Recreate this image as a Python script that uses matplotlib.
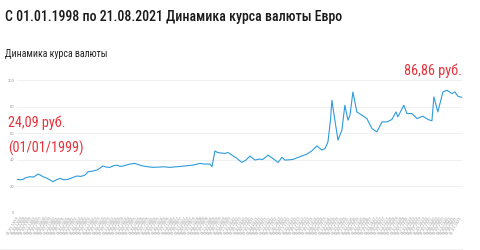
import matplotlib
matplotlib.use('Agg')
import matplotlib.pyplot as plt
from matplotlib.lines import Line2D
import numpy as np

# decimal year / rate (rub per euro)
years = [1999.00, 1999.15, 1999.31, 1999.45, 1999.66, 1999.85, 2000.07, 2000.20,
         2000.32, 2000.55, 2000.83, 2001.00, 2001.19, 2001.40, 2001.59, 2001.80,
         2002.05, 2002.25, 2002.46, 2002.61, 2002.85, 2003.07, 2003.20, 2003.37,
         2003.55, 2003.73, 2003.90, 2004.09, 2004.25, 2004.39, 2004.55, 2004.75,
         2005.00, 2005.15, 2005.41, 2005.65, 2005.92, 2006.10, 2006.27, 2006.43,
         2006.78, 2007.14, 2007.50, 2007.95, 2008.31, 2008.55, 2008.82, 2008.92,
         2009.07, 2009.20, 2009.33, 2009.58, 2009.73, 2009.94, 2010.19, 2010.44,
         2010.65, 2010.85, 2011.11, 2011.30, 2011.51, 2011.77, 2012.02, 2012.28,
         2012.48, 2012.63, 2012.85, 2013.04, 2013.39, 2013.75, 2014.00, 2014.26,
         2014.41, 2014.51, 2014.67, 2014.82, 2014.95, 2015.02, 2015.12, 2015.33,
         2015.53, 2015.68, 2015.84, 2015.94, 2016.09, 2016.29, 2016.55, 2016.80,
         2017.06, 2017.31, 2017.57, 2017.82, 2018.07, 2018.28, 2018.38, 2018.68,
         2018.84, 2019.09, 2019.35, 2019.65, 2019.91, 2020.11, 2020.21, 2020.41,
         2020.67, 2020.87, 2021.13, 2021.28, 2021.43, 2021.64]
rates = [25.2, 25.0, 25.3, 26.5, 27.3, 27.0, 29.3, 28.5,
         27.3, 26.0, 23.5, 25.0, 26.0, 25.0, 25.3, 26.5,
         27.8, 27.5, 28.5, 31.0, 31.5, 32.3, 33.5, 35.3,
         34.5, 34.3, 35.5, 36.0, 35.0, 35.3, 36.0, 36.8,
         37.3, 36.5, 35.3, 34.8, 34.3, 34.5, 34.5, 34.8,
         34.3, 34.8, 35.3, 36.0, 37.3, 36.8, 36.8, 34.8,
         46.7, 45.5, 45.2, 44.8, 45.5, 43.5, 41.0, 38.0,
         39.8, 42.8, 39.8, 40.5, 40.3, 43.5, 41.0, 38.0,
         41.8, 39.8, 40.0, 40.3, 42.3, 44.3, 46.7, 50.5,
         48.5, 47.3, 48.5, 53.5, 70.0, 84.8, 74.8, 54.8,
         62.3, 81.0, 69.8, 73.5, 91.0, 76.0, 73.5, 71.0,
         63.5, 61.0, 68.5, 68.5, 70.3, 76.0, 72.3, 81.0,
         74.8, 74.8, 71.0, 72.8, 70.3, 69.3, 87.3, 76.0,
         91.0, 92.3, 89.8, 91.0, 87.8, 86.86]

y_ticks = [0, 20, 40, 60, 80, 100]

# x tick labels every two months
tick_pos = []
tick_lab = []
for yr in range(1999, 2022):
  for m in range(1, 13, 2):
    if yr == 2021 and m > 7:
      break
    tick_pos.append(yr + (m - 1) / 12.)
    tick_lab.append('01.%02d.%d' % (m, yr))

narrow = ['Roboto Condensed', 'DejaVu Sans']
red = '#e8333c'

fig = plt.figure(figsize=(4.8, 2.5), dpi=100)
ax = fig.add_axes([17/480., 1 - 213/250., 445/480., 133/250.])

ax.plot(years, rates, color='#2e9bdc', lw=0.8)

ax.set_ylim(0, 100)
ax.set_xlim(1999.0, 2021.64)
ax.set_yticks(y_ticks)
ax.set_yticklabels([str(v) for v in y_ticks])
ax.set_xticks(tick_pos)
ax.set_xticklabels(tick_lab, rotation=60, ha='right', va='top', rotation_mode='anchor')
ax.tick_params(axis='both', length=0, labelsize=2.6, colors='#9a9a9a', pad=2)
ax.grid(axis='y', color='#eeeeee', lw=0.6)
ax.axhline(0, color='#d6e6f3', lw=0.8)
for s in ax.spines.values():
  s.set_visible(False)

fig.text(5/480., 1 - 17/250., 'С 01.01.1998 по 21.08.2021 Динамика курса валюты Евро',
         family=narrow, fontsize=10, fontweight='medium', color='#1a1a1a', va='center')
fig.text(5/480., 1 - 54/250., 'Динамика курса валюты',
         family=narrow, fontsize=7.1, color='#222222', va='center')
fig.text(462/480., 1 - 71/250., '86,86 руб.', family=narrow, fontsize=10.3,
         color=red, ha='right', va='center')
fig.text(8/480., 1 - 123/250., '24,09 руб.', family=narrow, fontsize=10.3,
         color=red, va='center')
fig.text(8/480., 1 - 148/250., '(01/01/1999)', family=narrow, fontsize=10.3,
         color=red, va='center')

fig.add_artist(Line2D([0, 462/480.], [1 - 249/250.] * 2, color='#eeeeee', lw=0.6))

fig.savefig('out.png', dpi=100)
